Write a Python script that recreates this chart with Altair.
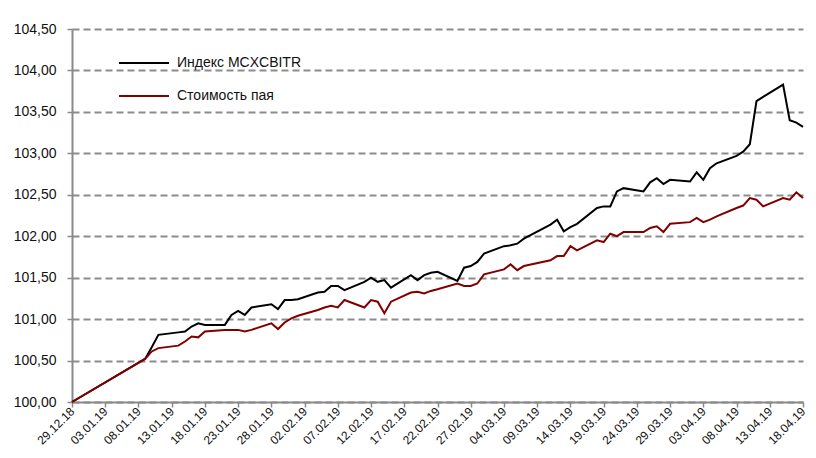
import altair as alt
import pandas as pd

# ---- data ----
dates = [
    "2018-12-29",
    "2019-01-09", "2019-01-10", "2019-01-11", "2019-01-14", "2019-01-15", "2019-01-16",
    "2019-01-17", "2019-01-18", "2019-01-21", "2019-01-22", "2019-01-23", "2019-01-24",
    "2019-01-25", "2019-01-28", "2019-01-29", "2019-01-30", "2019-01-31",
    "2019-02-01", "2019-02-04", "2019-02-05", "2019-02-06", "2019-02-07", "2019-02-08",
    "2019-02-11", "2019-02-12", "2019-02-13", "2019-02-14", "2019-02-15", "2019-02-18",
    "2019-02-19", "2019-02-20", "2019-02-21", "2019-02-22", "2019-02-25", "2019-02-26",
    "2019-02-27", "2019-02-28",
    "2019-03-01", "2019-03-04", "2019-03-05", "2019-03-06", "2019-03-07", "2019-03-11",
    "2019-03-12", "2019-03-13", "2019-03-14", "2019-03-15", "2019-03-18", "2019-03-19",
    "2019-03-20", "2019-03-21", "2019-03-22", "2019-03-25", "2019-03-26", "2019-03-27",
    "2019-03-28", "2019-03-29",
    "2019-04-01", "2019-04-02", "2019-04-03", "2019-04-04", "2019-04-05", "2019-04-08",
    "2019-04-09", "2019-04-10", "2019-04-11", "2019-04-12", "2019-04-15", "2019-04-16",
    "2019-04-17", "2019-04-18",
]

index_values = [
    100.00,
    100.52, 100.66, 100.81, 100.84, 100.85, 100.91,
    100.95, 100.93, 100.93, 101.05, 101.10, 101.05,
    101.14, 101.18, 101.12, 101.23, 101.23,
    101.24, 101.32, 101.33, 101.40, 101.40, 101.35,
    101.45, 101.50, 101.45, 101.47, 101.38, 101.53,
    101.47, 101.53, 101.56, 101.57, 101.46, 101.62,
    101.64, 101.69,
    101.79, 101.88, 101.89, 101.91, 101.97, 102.14,
    102.20, 102.06, 102.11, 102.15, 102.34, 102.36,
    102.36, 102.54, 102.58, 102.54, 102.65, 102.70,
    102.63, 102.68,
    102.66, 102.77, 102.68, 102.82, 102.88, 102.97,
    103.02, 103.11, 103.63, 103.68, 103.83, 103.40,
    103.37, 103.32,
]

pay_values = [
    100.00,
    100.52, 100.61, 100.65, 100.68, 100.73, 100.79,
    100.78, 100.85, 100.87, 100.87, 100.87, 100.85,
    100.87, 100.95, 100.88, 100.96, 101.01,
    101.04, 101.11, 101.14, 101.16, 101.14, 101.23,
    101.14, 101.23, 101.21, 101.07, 101.21, 101.32,
    101.33, 101.31, 101.34, 101.36, 101.43, 101.40,
    101.40, 101.43,
    101.54, 101.60, 101.66, 101.59, 101.64, 101.71,
    101.76, 101.76, 101.88, 101.83, 101.95, 101.93,
    102.03, 102.00, 102.05, 102.05, 102.10, 102.12,
    102.05, 102.15,
    102.17, 102.22, 102.17, 102.20, 102.24, 102.34,
    102.37, 102.46, 102.44, 102.36, 102.46, 102.44,
    102.53, 102.46,
]

series_names = ["Индекс MCXCBITR", "Стоимость пая"]
series_colors = ["#000000", "#800000"]

tick_dates = [
    "2018-12-29", "2019-01-03", "2019-01-08", "2019-01-13", "2019-01-18", "2019-01-23",
    "2019-01-28", "2019-02-02", "2019-02-07", "2019-02-12", "2019-02-17", "2019-02-22",
    "2019-02-27", "2019-03-04", "2019-03-09", "2019-03-14", "2019-03-19", "2019-03-24",
    "2019-03-29", "2019-04-03", "2019-04-08", "2019-04-13", "2019-04-18",
]

y_ticks = [100.0, 100.5, 101.0, 101.5, 102.0, 102.5, 103.0, 103.5, 104.0, 104.5]

# ---- build table ----
df = pd.concat([
    pd.DataFrame({"date": dates, "value": index_values, "series": series_names[0]}),
    pd.DataFrame({"date": dates, "value": pay_values, "series": series_names[1]}),
], ignore_index=True)

tick_ms = [int(pd.Timestamp(d).value // 10**6) for d in tick_dates]

FONT = "Liberation Sans"
AXIS_GRAY = "#8a8a8a"

chart = alt.Chart(df).mark_line(strokeWidth=2).encode(
    x=alt.X(
        "date:T",
        scale=alt.Scale(type="utc", domain=[tick_ms[0], tick_ms[-1]], nice=False),
        axis=alt.Axis(
            values=tick_ms, format="%d.%m.%y", labelAngle=-45, labelAlign="right",
            labelBaseline="middle", labelPadding=2, labelFlush=False, labelOverlap=False,
            labelBound=False, tickSize=5, tickWidth=1.5, tickColor=AXIS_GRAY,
            domainColor=AXIS_GRAY, domainWidth=2, grid=False, title=None,
            labelFontSize=12, labelColor="#111111",
        ),
    ),
    y=alt.Y(
        "value:Q",
        scale=alt.Scale(domain=[100, 104.5], nice=False, zero=False),
        axis=alt.Axis(
            values=y_ticks,
            labelExpr="replace(format(datum.value, '.2f'), '.', ',')",
            tickSize=5, tickWidth=1.5, tickColor=AXIS_GRAY, domainColor=AXIS_GRAY,
            domainWidth=2, grid=True, gridColor="#8c8c8c", gridDash=[7, 4], gridWidth=2,
            labelPadding=11, labelFontSize=14, labelColor="#111111", title=None,
        ),
    ),
    color=alt.Color(
        "series:N",
        scale=alt.Scale(domain=series_names, range=series_colors),
        legend=alt.Legend(
            title=None, orient="none", legendX=46, legendY=8, direction="vertical",
            symbolType="stroke", symbolSize=2500, symbolStrokeWidth=2,
            labelFontSize=14, labelOffset=7, labelColor="#111111", rowPadding=-15,
            padding=0,
        ),
    ),
).properties(
    width=731,
    height=373,
    autosize=alt.AutoSizeParams(type="none"),
    padding={"left": 64, "top": 21, "right": 5, "bottom": 44},
).configure_view(stroke=None).configure_axis(labelFont=FONT).configure_legend(labelFont=FONT)

chart.save("out.html", embed_options={"renderer": "svg", "actions": False})
